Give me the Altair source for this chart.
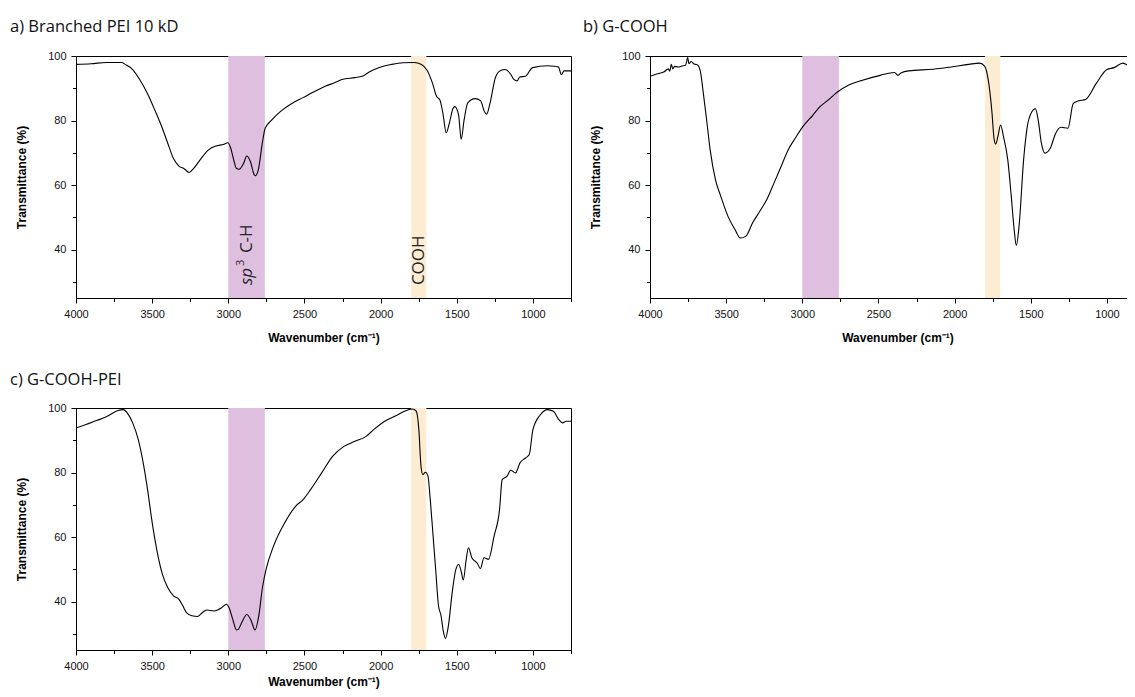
import altair as alt
import pandas as pd

# ---------------- data ----------------
a_wn = [4000, 3900, 3800, 3700, 3677, 3628, 3579, 3531, 3482, 3433, 3397, 3361, 3324, 3288, 3258, 3227,
        3178, 3130, 3081, 3032, 3003, 2984, 2967, 2947, 2928, 2899, 2879, 2855, 2830, 2821, 2801, 2777,
        2758, 2716, 2655, 2583, 2510, 2437, 2364, 2303, 2254, 2169, 2121, 2072, 1999, 1926, 1853, 1780,
        1732, 1695, 1659, 1634, 1610, 1591, 1569, 1549, 1525, 1513, 1488, 1471, 1452, 1428, 1379, 1343,
        1318, 1304, 1282, 1245, 1209, 1184, 1148, 1124, 1104, 1087, 1051, 1002, 905, 856, 832, 813, 796, 750]
a_t = [97.4, 97.6, 98.0, 98.0, 97.4, 95.8, 92.5, 88.4, 83.2, 77.6, 72.9, 68.3, 65.9, 65.0, 63.9, 65.2,
       68.3, 70.9, 72.1, 72.6, 73.1, 71.4, 68.3, 65.2, 64.9, 66.8, 69.0, 67.3, 63.2, 62.9, 65.2, 72.9,
       77.6, 80.1, 82.9, 85.3, 87.1, 88.9, 90.6, 91.7, 92.7, 93.3, 93.7, 95.1, 96.6, 97.4, 97.9, 98.0,
       97.4, 95.6, 91.5, 87.6, 86.3, 82.2, 76.2, 79.1, 83.7, 84.3, 81.7, 74.2, 80.1, 85.5, 86.8, 86.1,
       82.7, 82.0, 85.3, 93.5, 95.6, 95.8, 94.5, 92.7, 92.3, 93.5, 93.7, 96.4, 97.0, 96.8, 96.6, 94.2, 95.4, 95.4]

b_wn = [4000, 3950, 3907, 3880, 3870, 3860, 3850, 3840, 3814, 3790, 3767, 3752, 3745, 3730, 3710, 3690,
        3670, 3651, 3628, 3605, 3570, 3535, 3488, 3442, 3407, 3372, 3326, 3279, 3233, 3186, 3140, 3093,
        3047, 3000, 2930, 2884, 2837, 2767, 2698, 2605, 2488, 2395, 2372, 2350, 2302, 2140, 2023, 1907,
        1837, 1802, 1779, 1756, 1740, 1730, 1716, 1698, 1679, 1651, 1628, 1609, 1595, 1577, 1547, 1523,
        1493, 1470, 1451, 1430, 1407, 1372, 1337, 1302, 1256, 1221, 1186, 1140, 1070, 1000, 953, 895,
        849, 819, 790, 750]
b_t = [93.7, 94.5, 95.1, 96.0, 95.3, 97.4, 96.0, 96.8, 96.6, 96.9, 97.1, 99.5, 97.6, 98.3, 97.5, 97.3,
       95.4, 88.9, 80.1, 70.9, 61.6, 56.5, 50.3, 46.2, 43.6, 44.1, 48.3, 51.9, 55.5, 60.6, 65.7, 70.9,
       74.5, 77.9, 81.7, 84.3, 86.1, 88.9, 90.9, 92.5, 94.0, 94.9, 94.0, 94.8, 95.4, 95.9, 96.6, 97.4,
       97.8, 96.8, 92.5, 83.2, 74.0, 72.7, 75.0, 78.6, 75.0, 67.8, 56.5, 46.2, 41.3, 47.2, 67.8, 78.1,
       82.7, 83.7, 80.1, 72.9, 69.9, 71.4, 76.0, 77.9, 77.6, 85.3, 86.1, 86.5, 91.5, 95.8, 96.4, 97.8,
       96.8, 96.6, 96.4, 96.2]

c_wn = [4000, 3895, 3798, 3725, 3689, 3664, 3628, 3591, 3555, 3530, 3506, 3482, 3457, 3433, 3397, 3360,
        3324, 3299, 3275, 3238, 3202, 3165, 3141, 3092, 3044, 3012, 2995, 2971, 2946, 2934, 2910, 2878,
        2849, 2825, 2800, 2776, 2752, 2703, 2630, 2557, 2509, 2460, 2387, 2314, 2241, 2168, 2095, 2046,
        1973, 1900, 1827, 1791, 1766, 1749, 1735, 1723, 1706, 1689, 1676, 1657, 1637, 1620, 1603, 1589,
        1574, 1555, 1530, 1506, 1487, 1469, 1457, 1438, 1423, 1401, 1365, 1345, 1321, 1292, 1255, 1219,
        1202, 1170, 1146, 1114, 1085, 1049, 1024, 1000, 951, 903, 866, 830, 805, 781, 750]
c_t = [93.8, 95.6, 97.4, 99.2, 99.5, 98.5, 95.4, 90.2, 82.0, 74.7, 66.5, 59.3, 53.1, 48.5, 44.3, 41.8,
       40.7, 38.7, 36.6, 35.6, 35.4, 36.8, 37.4, 37.1, 38.1, 39.2, 38.1, 34.5, 31.2, 31.4, 33.7, 36.0,
       34.0, 31.2, 35.6, 44.3, 50.0, 57.2, 64.4, 69.6, 71.6, 74.7, 79.9, 85.1, 88.1, 89.7, 91.2, 93.3,
       95.9, 97.6, 99.3, 99.7, 99.0, 93.3, 82.0, 79.4, 80.1, 78.9, 72.7, 61.3, 49.0, 38.7, 35.6, 31.0,
       28.6, 32.5, 42.8, 50.0, 51.5, 49.0, 46.7, 53.1, 56.7, 53.6, 51.9, 50.2, 53.6, 53.1, 60.3, 68.6,
       77.8, 78.9, 80.7, 79.9, 83.0, 84.5, 85.6, 93.3, 97.9, 99.5, 99.0, 96.4, 95.4, 95.9, 95.9]

band_start = [3000, 1800]
band_end = [2760, 1700]
band_color = ["#dfbfdf", "#fcecd2"]

panel_titles = ["a) Branched PEI 10 kD", "b) G-COOH", "c) G-COOH-PEI"]

x_ticks = list(range(4000, 749, -250))
y_ticks = [30, 40, 50, 60, 70, 80, 90, 100]

# ---------------- chart ----------------
LABEL_FONT = "Liberation Sans"
TEXT_FONT = "Open Sans"

xscale = alt.Scale(domain=[750, 4000], reverse=True, nice=False, zero=False)
yscale = alt.Scale(domain=[25, 100], nice=False, zero=False)


def make_xaxis(title_pad):
    return alt.Axis(
        title="Wavenumber (cm⁻¹)", values=x_ticks, grid=False, format="d",
        labelExpr="datum.value % 500 === 0 ? datum.label : ''",
        tickSize={"condition": {"test": "datum.value % 500 === 0", "value": 5}, "value": 3.5},
        labelFlush=False, labelOverlap=False, labelPadding=5, titlePadding=title_pad,
    )


yaxis = alt.Axis(
    title="Transmittance (%)", values=y_ticks, grid=False,
    labelExpr="datum.value % 20 === 0 ? datum.label : ''",
    tickSize={"condition": {"test": "datum.value % 20 === 0", "value": 5}, "value": 3.5},
    labelOverlap=False, labelPadding=5, titlePadding=19,
)


def panel(wn, t, title, title_dx, title_offset, x_title_pad, annotate):
    xaxis = make_xaxis(x_title_pad)
    line_df = pd.DataFrame({"wn": wn, "t": t})
    band_df = pd.DataFrame({"wn": band_start, "wn2": band_end, "color": band_color})

    bands = alt.Chart(band_df).mark_rect(opacity=1).encode(
        x=alt.X("wn:Q", scale=xscale, axis=xaxis),
        x2="wn2:Q",
        y=alt.YDatum(25, scale=yscale, axis=yaxis),
        y2=alt.Y2Datum(100),
        color=alt.Color("color:N", scale=None),
    )
    line = alt.Chart(line_df).mark_line(
        color="black", strokeWidth=1.1, interpolate="monotone", clip=True
    ).encode(
        x=alt.X("wn:Q", scale=xscale, axis=xaxis),
        y=alt.Y("t:Q", scale=yscale, axis=yaxis),
    )
    layers = [bands, line]
    if annotate:
        sp_df = pd.DataFrame({"wn": [2880], "t": [29.0]})
        cooh_df = pd.DataFrame({"wn": [1750], "t": [29.0]})
        common = dict(angle=270, align="left", baseline="middle", font=TEXT_FONT, color="#222")
        enc = dict(x=alt.X("wn:Q", scale=xscale, axis=xaxis),
                   y=alt.Y("t:Q", scale=yscale, axis=yaxis))
        sp = alt.Chart(sp_df).mark_text(text="sp", fontSize=17, fontStyle="italic", **common).encode(**enc)
        sup = alt.Chart(sp_df).mark_text(text="3", fontSize=11, dx=19, dy=-6, **common).encode(**enc)
        ch = alt.Chart(sp_df).mark_text(text="C-H", fontSize=17, dx=32, **common).encode(**enc)
        cooh = alt.Chart(cooh_df).mark_text(text="COOH", fontSize=17, **common).encode(**enc)
        layers += [sp, sup, ch, cooh]
    return alt.layer(*layers).properties(
        width=495, height=242,
        title=alt.TitleParams(
            title, anchor="start", frame="group", dx=title_dx, offset=title_offset,
            font=TEXT_FONT, fontSize=16.5, fontWeight="normal", color="#111",
        ),
    )


pa = panel(a_wn, a_t, panel_titles[0], -66, 14.6, 13, True)
pb = panel(b_wn, b_t, panel_titles[1], -67, 14.6, 13, False)
pc = panel(c_wn, c_t, panel_titles[2], -66, 13.6, 5, False)

chart = alt.concat(
    pa, pb, pc, columns=2, spacing={"row": 110, "column": 79}, bounds="flush"
).properties(
    autosize=alt.AutoSizeParams(type="none"),
    padding={"left": 68, "top": 48, "right": 1051, "bottom": 633},
    background="white",
).configure_view(
    stroke="black", strokeWidth=1
).configure_axis(
    domainColor="black", tickColor="black", labelColor="#111",
    labelFont=LABEL_FONT, labelFontSize=11,
    titleFont=LABEL_FONT, titleFontSize=12, titleFontWeight="bold", titleColor="black",
)

chart.save("out.html", embed_options={"renderer": "svg", "actions": False})
